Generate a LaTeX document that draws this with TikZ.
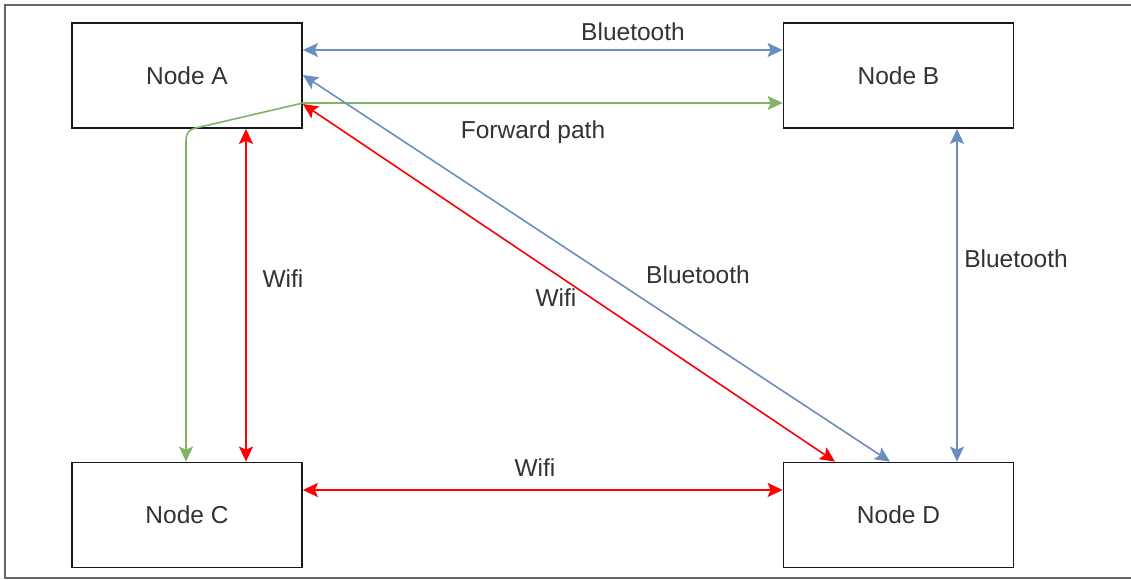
\documentclass[tikz,border=0pt]{standalone}
\usepackage{fontspec}
\setmainfont{Liberation Sans}
\usetikzlibrary{arrows.meta}
\definecolor{bt}{HTML}{6C8EBF}
\definecolor{gr}{HTML}{82B366}
\definecolor{rd}{HTML}{FF0000}
\definecolor{tx}{HTML}{333333}
\begin{document}
\begin{tikzpicture}[x=1pt,y=-1pt,
  box/.style={draw=black!90,line width=1.8pt,fill=white,minimum width=230pt,minimum height=105pt,inner sep=0pt,text=tx,font=\fontsize{24.5}{29}\selectfont},
  lbl/.style={text=tx,font=\fontsize{24.5}{29}\selectfont,inner sep=0pt},
  conn/.style={line width=1.6pt,{Stealth[length=15pt,width=14pt,inset=3pt]}-{Stealth[length=15pt,width=14pt,inset=3pt]}},
  blue/.style={conn,draw=bt,color=bt},
  green/.style={conn,draw=gr,color=gr},
  red/.style={conn,draw=rd,color=rd}]
\useasboundingbox (0,0) rectangle (1131,579);
\fill[white] (0,0) rectangle (1131,579);
\draw[black!60,line width=1.5pt] (1135,5) -- (5,5) -- (5,578) -- (1135,578);

\node[box] (A) at (187,75.5) {Node A};
\node[box] (B) at (898.5,75.5) {Node B};
\node[box] (C) at (187,515) {Node C};
\node[box] (D) at (898.5,515) {Node D};

\coordinate (g1) at ([yshift=-27.5pt]A.east);
\coordinate (g2) at (200,127);
\coordinate (g3) at (186,142);

\draw[blue] ([yshift=25.5pt]A.east) -- ([yshift=25.5pt]B.west);
\draw[green] ([xshift=-1pt]C.north) -- (g3) .. controls (186,131) and (190,129) .. (g2) -- (g1) -- ([yshift=-27.5pt]B.west);
\draw[red] ([xshift=59pt]A.south) -- ([xshift=59pt]C.north);
\draw[red] ([yshift=-28.5pt]A.east) -- ([xshift=-63.5pt]D.north);
\draw[blue] ([yshift=0.5pt]A.east) -- ([xshift=-8.5pt]D.north);
\draw[blue] ([xshift=58.5pt]B.south) -- ([xshift=58.5pt]D.north);
\draw[red] ([yshift=25pt]C.east) -- ([yshift=25pt]D.west);

\node[lbl] (l1) at (633,32) {Bluetooth};
\node[lbl] (l2) at (533,132) {Forward path};
\node[lbl] (l3) at (283,279) {Wifi};
\node[lbl] (l4) at (556,298) {Wifi};
\node[lbl] (l5) at (698,275) {Bluetooth};
\node[lbl] (l6) at (1016,259) {Bluetooth};
\node[lbl] (l7) at (535,468) {Wifi};
\end{tikzpicture}
\end{document}
